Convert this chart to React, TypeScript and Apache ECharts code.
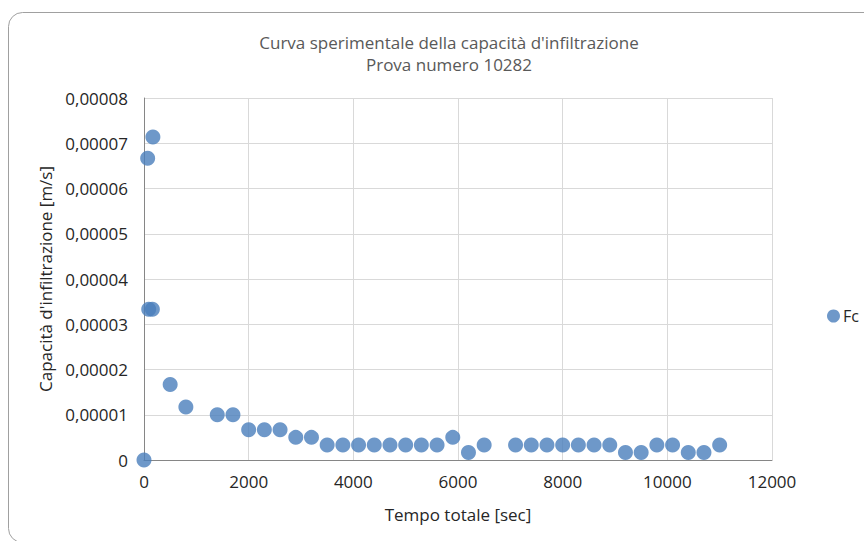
import React, { useEffect, useRef } from "react";
import * as echarts from "echarts";

const titleLines = ["Curva sperimentale della capacità d'infiltrazione", "Prova numero 10282"];
const xAxisName = "Tempo totale [sec]";
const yAxisName = "Capacità d'infiltrazione [m/s]";
const seriesName = "Fc";

// Tempo totale [sec]
const timeSec = [
  0, 70, 170, 90, 160, 500, 800, 1400, 1700, 2000, 2300, 2600, 2900, 3200, 3500,
  3800, 4100, 4400, 4700, 5000, 5300, 5600, 5900, 6200, 6500, 7100, 7400, 7700,
  8000, 8300, 8600, 8900, 9200, 9500, 9800, 10100, 10400, 10700, 11000,
];
// Capacità d'infiltrazione [m/s]
const fcValues = [
  0, 0.0000667, 0.0000714, 0.0000333, 0.0000333, 0.0000167, 0.0000117, 0.00001,
  0.00001, 0.00000667, 0.00000667, 0.00000667, 0.000005, 0.000005, 0.00000333,
  0.00000333, 0.00000333, 0.00000333, 0.00000333, 0.00000333, 0.00000333,
  0.00000333, 0.000005, 0.00000167, 0.00000333, 0.00000333, 0.00000333,
  0.00000333, 0.00000333, 0.00000333, 0.00000333, 0.00000333, 0.00000167,
  0.00000167, 0.00000333, 0.00000333, 0.00000167, 0.00000167, 0.00000333,
];

const xMin = 0;
const xMax = 12000;
const xStep = 2000;
const yMin = 0;
const yMax = 0.00008;
const yStep = 0.00001;

const FONT = "'Open Sans', 'Noto Sans', sans-serif";

export default function App() {
  const ref = useRef<HTMLDivElement>(null);

  useEffect(() => {
    document.body.style.margin = "0";
    const chart = echarts.init(ref.current!, null, { renderer: "svg" });
    const data = timeSec.map((t, i) => [t, fcValues[i]]);
    chart.setOption({
      animation: false,
      backgroundColor: "#ffffff",
      textStyle: { fontFamily: FONT },
      title: {
        text: titleLines.join("\n"),
        left: 444,
        top: 26,
        textAlign: "center",
        textStyle: {
          fontFamily: FONT,
          fontSize: 17,
          fontWeight: "normal",
          color: "#595959",
          lineHeight: 22,
        },
      },
      graphic: [
        {
          type: "rect",
          shape: { x: 8.5, y: 12.5, width: 870, height: 530, r: 14 },
          style: { fill: "none", stroke: "#a0a0a0", lineWidth: 1 },
          silent: true,
          z: 100,
        },
      ],
      legend: {
        data: [seriesName],
        left: 822,
        top: 303,
        orient: "vertical",
        icon: "circle",
        itemWidth: 13,
        itemHeight: 13,
        itemGap: 4,
        textStyle: { fontFamily: FONT, fontSize: 16, color: "#262626", padding: [0, 0, 0, -2] },
      },
      grid: { left: 144, right: 92, top: 98, bottom: 81, containLabel: false },
      xAxis: {
        type: "value",
        min: xMin,
        max: xMax,
        interval: xStep,
        name: xAxisName,
        nameLocation: "middle",
        nameGap: 46,
        nameTextStyle: { fontFamily: FONT, fontSize: 17, color: "#262626" },
        axisLine: { show: true, lineStyle: { color: "#868686", width: 1 } },
        axisTick: { show: false },
        axisLabel: {
          fontFamily: FONT,
          fontSize: 17,
          color: "#262626",
          margin: 13,
          formatter: (v: number) => String(Math.round(v)),
        },
        splitLine: { show: true, lineStyle: { color: "#d9d9d9", width: 1 } },
      },
      yAxis: {
        type: "value",
        min: yMin,
        max: yMax,
        interval: yStep,
        name: yAxisName,
        nameLocation: "middle",
        nameGap: 89,
        nameRotate: 90,
        nameTextStyle: { fontFamily: FONT, fontSize: 17, color: "#262626" },
        axisLine: { show: true, lineStyle: { color: "#868686", width: 1 } },
        axisTick: { show: false },
        axisLabel: {
          fontFamily: FONT,
          fontSize: 17,
          color: "#262626",
          margin: 16,
          formatter: (v: number) => {
            const n = Math.round(v * 100000);
            if (n === 0) return "0";
            return (n / 100000).toFixed(5).replace(".", ",");
          },
        },
        splitLine: { show: true, lineStyle: { color: "#d9d9d9", width: 1 } },
      },
      series: [
        {
          name: seriesName,
          type: "scatter",
          data,
          symbol: "circle",
          symbolSize: 15,
          itemStyle: { color: "#4a7ebb" },
        },
      ],
    });
    return () => chart.dispose();
  }, []);

  return (
    <div
      ref={ref}
      style={{ position: "fixed", left: 0, top: 0, width: 864, height: 541 }}
    />
  );
}
